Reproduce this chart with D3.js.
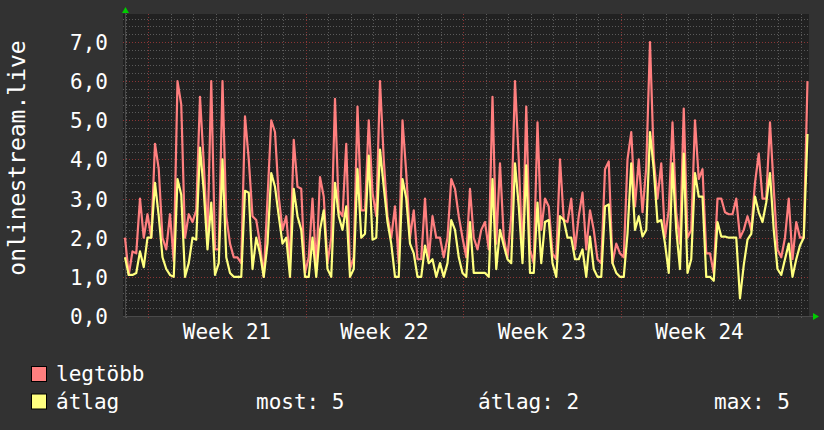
<!DOCTYPE html>
<html>
<head>
<meta charset="utf-8">
<script src="https://cdn.jsdelivr.net/npm/d3@7"></script>
<style>
  html, body { margin: 0; padding: 0; background: #323232; }
  text { font-family: "DejaVu Sans Mono", monospace; fill: #ffffff; }
</style>
</head>
<body>
<div class="canvas"></div>
<script>
// values every 4 hours, starting ~1 day before monday of week 21
const legtobb = [
  2.0,1.05,1.65,1.6,3.0,2.0,2.6,2.0,4.4,3.75,2.0,1.7,2.6,1.4,6.0,5.4,2.0,2.6,2.4,2.7,5.6,3.9,2.0,6.0,1.7,1.7,6.0,2.55,1.85,1.5,1.5,
  1.35,5.1,4.0,2.55,2.45,1.85,1.0,3.0,5.0,4.7,3.05,2.2,2.55,1.35,4.5,3.3,3.25,1.1,1.5,3.0,1.2,3.55,3.05,1.35,2.0,5.55,2.7,2.55,4.4,1.2,
  1.5,5.35,2.7,2.7,5.0,3.15,2.55,6.0,4.0,2.55,2.0,2.8,1.35,5.0,3.65,2.0,2.7,1.45,1.45,3.0,1.45,2.55,2.0,2.0,1.5,2.0,3.5,3.25,2.55,2.0,1.5,
  3.25,2.0,1.7,2.2,2.4,1.7,5.6,1.85,3.9,2.0,1.5,2.55,6.0,4.0,1.5,5.35,1.7,1.35,4.95,2.2,3.0,2.8,1.6,1.45,4.0,2.45,2.4,3.0,1.7,2.55,
  3.15,1.7,2.7,2.2,1.45,1.35,3.75,3.95,1.35,1.85,1.6,1.5,4.0,4.7,2.8,4.0,2.65,3.8,7.0,4.0,3.0,3.9,2.0,2.7,4.95,2.65,1.85,5.3,2.0,2.2,5.0,
  3.5,3.75,1.6,1.6,1.1,3.0,3.0,2.65,2.6,2.6,3.0,2.0,2.2,2.55,2.2,3.4,4.15,3.0,3.0,4.95,3.25,1.7,1.5,2.0,3.0,1.45,2.4,2.0,2.0,6.0
];
const atlag = [
  1.5,1.05,1.05,1.1,1.65,1.25,2.0,2.0,3.4,2.55,1.5,1.2,1.05,1.0,3.5,3.1,1.0,1.35,2.0,1.95,4.3,3.2,1.7,2.9,1.05,1.35,4.0,1.5,1.1,1.0,1.0,
  1.0,3.2,3.15,1.2,2.0,1.6,1.0,1.85,3.65,3.3,2.55,1.85,2.0,1.0,3.25,2.55,2.2,1.0,1.0,2.0,1.0,2.2,2.7,1.2,1.0,3.4,2.55,2.2,2.8,1.0,
  1.2,3.75,2.0,2.1,4.1,1.95,2.0,4.25,3.3,2.4,1.85,1.0,1.0,3.5,3.0,1.85,1.6,1.0,1.0,1.8,1.35,1.45,1.0,1.35,1.0,1.35,2.45,2.2,1.5,1.1,1.0,
  2.4,1.1,1.1,1.1,1.1,1.0,3.5,1.2,2.2,1.8,1.45,1.35,3.9,2.8,1.35,3.85,1.1,1.1,2.9,1.35,2.4,2.45,1.35,1.0,2.55,2.45,2.0,2.0,1.45,1.45,
  1.7,1.0,2.03,1.2,1.0,1.0,2.8,2.85,1.35,1.1,1.0,1.0,2.1,3.9,2.2,2.55,2.03,2.2,4.7,3.75,2.4,2.45,1.85,1.1,3.9,2.2,1.2,4.15,1.1,1.45,3.65,
  3.05,3.05,1.0,1.0,0.9,2.4,2.03,2.03,2.0,2.0,2.0,0.45,1.3,1.95,2.1,3.05,2.65,2.4,2.9,3.65,2.2,1.2,1.05,1.45,1.85,1.0,1.45,1.8,2.0,4.65
];
const weekLabels = ['Week 21', 'Week 22', 'Week 23', 'Week 24'];
const weekStarts = [Date.UTC(2023,4,22), Date.UTC(2023,4,29), Date.UTC(2023,5,5), Date.UTC(2023,5,12)];
const yTicks = [0, 1, 2, 3, 4, 5, 6, 7];
const seriesNames = ['legtöbb', 'átlag'];
const seriesColors = ['#ff7f7f', '#ffff7f'];
const stats = ['most: 5', 'átlag: 2', 'max: 5'];

const DAY = 864e5;
const STEP = 4 * 3600e3;
const t0 = weekStarts[0] - 1.035 * DAY;

const dims = {width: 824, height: 430};
const plot = {left: 125, right: 809, top: 14, bottom: 316};
const pxPerDay = 22.5;

const svg = d3.select('.canvas').append('svg')
    .attr('width', dims.width).attr('height', dims.height);

svg.append('rect').attr('width', dims.width).attr('height', dims.height).attr('fill', '#323232');
svg.append('rect')
    .attr('x', plot.left - 2).attr('y', plot.top)
    .attr('width', plot.right - plot.left + 2).attr('height', plot.bottom - plot.top)
    .attr('fill', '#212121');

const x = d3.scaleUtc()
    .domain([t0, t0 + (plot.right - plot.left) / pxPerDay * DAY])
    .range([plot.left, plot.right]);
const y = d3.scaleLinear()
    .domain([0, 7])
    .range([plot.bottom, 42]);

// grid: minor
const minorY = d3.range(0, 7.75, 0.2).filter(v => Math.abs(v - Math.round(v)) > 0.01 && y(v) > plot.top);
const days = d3.utcDay.range(new Date(t0), new Date(x.domain()[1]));
const grid = svg.append('g');
grid.selectAll('.hminor').data(minorY).enter().append('line')
    .attr('x1', plot.left - 2).attr('x2', plot.right)
    .attr('y1', d => Math.round(y(d)) + 0.5).attr('y2', d => Math.round(y(d)) + 0.5)
    .attr('stroke', '#5a5a5a').attr('stroke-dasharray', '1,2');
grid.selectAll('.vminor').data(days).enter().append('line')
    .attr('x1', d => Math.round(x(d)) + 0.5).attr('x2', d => Math.round(x(d)) + 0.5)
    .attr('y1', plot.top).attr('y2', plot.bottom + 2)
    .attr('stroke', '#5a5a5a').attr('stroke-dasharray', '1,2');
// grid: major
grid.selectAll('.hmajor').data(yTicks).enter().append('line')
    .attr('x1', plot.left - 2).attr('x2', plot.right)
    .attr('y1', d => Math.round(y(d)) + 0.5).attr('y2', d => Math.round(y(d)) + 0.5)
    .attr('stroke', '#8a3535').attr('stroke-dasharray', '1,2');
grid.selectAll('.vmajor').data(weekStarts).enter().append('line')
    .attr('x1', d => Math.round(x(d)) + 0.5).attr('x2', d => Math.round(x(d)) + 0.5)
    .attr('y1', plot.top).attr('y2', plot.bottom + 3)
    .attr('stroke', '#8a3535').attr('stroke-dasharray', '1,2');

// axis lines
svg.append('line').attr('x1', plot.left - 2).attr('x2', plot.right + 4)
    .attr('y1', plot.bottom + 0.5).attr('y2', plot.bottom + 0.5).attr('stroke', '#4a4a4a');
svg.append('line').attr('x1', plot.left + 0.5).attr('x2', plot.left + 0.5)
    .attr('y1', plot.bottom + 2).attr('y2', plot.top - 4).attr('stroke', '#4a4a4a');
// arrows
svg.append('path').attr('d', `M${plot.left - 3},${plot.top - 1}L${plot.left + 4},${plot.top - 1}L${plot.left + 0.5},${plot.top - 7}Z`).attr('fill', '#00cc00');
svg.append('path').attr('d', `M${plot.right + 4},${plot.bottom - 3}L${plot.right + 4},${plot.bottom + 4}L${plot.right + 10},${plot.bottom + 0.5}Z`).attr('fill', '#00cc00');

// lines
const line = d3.line()
    .x((d, i) => x(t0 + i * STEP))
    .y(d => y(d));
[legtobb, atlag].forEach((s, k) => {
  svg.append('path').datum(s)
      .attr('d', line)
      .attr('fill', 'none')
      .attr('stroke', seriesColors[k])
      .attr('stroke-width', 2.2)
      .attr('stroke-linejoin', 'round');
});

// y labels
const fmt = v => d3.format('.1f')(v).replace('.', ',');
svg.selectAll('.ylab').data(yTicks).enter().append('text')
    .attr('x', 108).attr('y', d => y(d) + 8)
    .attr('text-anchor', 'end').attr('font-size', 21)
    .text(fmt);

// x labels centred in each week
svg.selectAll('.xlab').data(weekStarts).enter().append('text')
    .attr('x', d => x(d + 3.5 * DAY)).attr('y', 339)
    .attr('text-anchor', 'middle').attr('font-size', 21)
    .text((d, i) => weekLabels[i]);

// vertical title
svg.append('text')
    .attr('transform', 'translate(25,158) rotate(-90)')
    .attr('text-anchor', 'middle').attr('font-size', 23)
    .text('onlinestream.live');

// legend
const legend = svg.append('g');
seriesNames.forEach((n, k) => {
  legend.append('rect')
      .attr('x', 31.5).attr('y', 366.5 + k * 27.5)
      .attr('width', 15).attr('height', 15)
      .attr('fill', seriesColors[k]).attr('stroke', '#000');
  legend.append('text')
      .attr('x', 56).attr('y', 381 + k * 27.5)
      .attr('font-size', 21).text(n);
});
[256, 478, 714].forEach((px, i) => {
  legend.append('text').attr('x', px).attr('y', 408.5)
      .attr('font-size', 21).text(stats[i]);
});
</script>
</body>
</html>
